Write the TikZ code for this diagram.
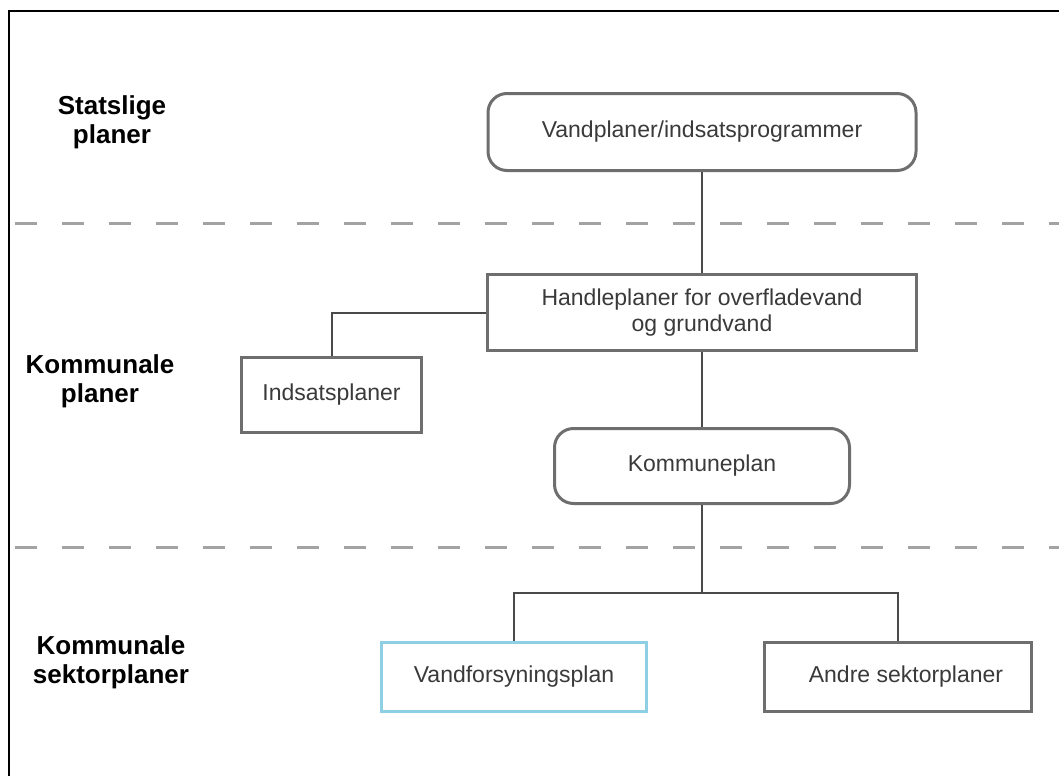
\documentclass[tikz,border=0pt]{standalone}
\usepackage{fontspec}
\setmainfont{Liberation Sans}
\usepackage{tikz}
\usetikzlibrary{positioning}
\definecolor{boxgray}{HTML}{6E6E6E}
\definecolor{linkgray}{HTML}{4A4A4A}
\definecolor{dashgray}{HTML}{A3A3A3}
\definecolor{waterblue}{HTML}{8FCFE3}
\definecolor{textdark}{HTML}{3A3A3A}
\newcommand{\LevelFont}{\fontsize{26}{29}\selectfont\bfseries}

\begin{document}
\begin{tikzpicture}[x=1pt,y=-1pt,
    font=\fontsize{23}{25.5}\selectfont,
    level/.style={align=center,font=\LevelFont},
    plan/.style={draw=boxgray,line width=3pt,inner sep=0pt,align=center,text=textdark},
    roundplan/.style={plan,rounded corners=19pt},
    link/.style={draw=linkgray,line width=2pt},
    split/.style={draw=dashgray,line width=3pt,dash pattern=on 22pt off 25pt}]
  \useasboundingbox (0,0) rectangle (1059,776);
  \fill[white] (0,0) rectangle (1059,776);
  \draw[black,line width=2pt] (9,776) -- (9,11) -- (1059,11);

  % niveauer
  \node[level] (stat) at (112,122) {Statslige\\planer};
  \node[level] (komm) at (100,381) {Kommunale\\planer};
  \node[level] (sekt) at (111,662) {Kommunale\\sektorplaner};
  \draw[split] (15,223) -- (1059,223);
  \draw[split] (15,547) -- (1059,547);

  % planer
  \node[roundplan,minimum width=428pt,minimum height=77pt] (vand) at (702,132) {Vandplaner/indsatsprogrammer};
  \node[plan,minimum width=429pt,minimum height=76pt] (handle) at (702,312.5) {Handleplaner for overfladevand\\og grundvand};
  \node[plan,minimum width=180pt,minimum height=75pt] (indsats) at (331.5,395) {Indsatsplaner};
  \node[roundplan,minimum width=295pt,minimum height=75pt] (kplan) at (702,466) {Kommuneplan};
  \node[plan,draw=waterblue,minimum width=265pt,minimum height=69pt] (forsyn) at (514,676.5) {Vandforsyningsplan};
  \node[plan,minimum width=267pt,minimum height=69pt] (andre) at (898,677) {\hspace{16pt}Andre sektorplaner};
  \coordinate (gren) at (702,593);

  \draw[link] (vand.south) -- (handle.north);
  \draw[link] (handle.west) -| (indsats.north);
  \draw[link] (handle.south) -- (kplan.north);
  \draw[link] (kplan.south) -- (gren);
  \draw[link] (forsyn.north) |- (gren) -| (andre.north);
\end{tikzpicture}
\end{document}
